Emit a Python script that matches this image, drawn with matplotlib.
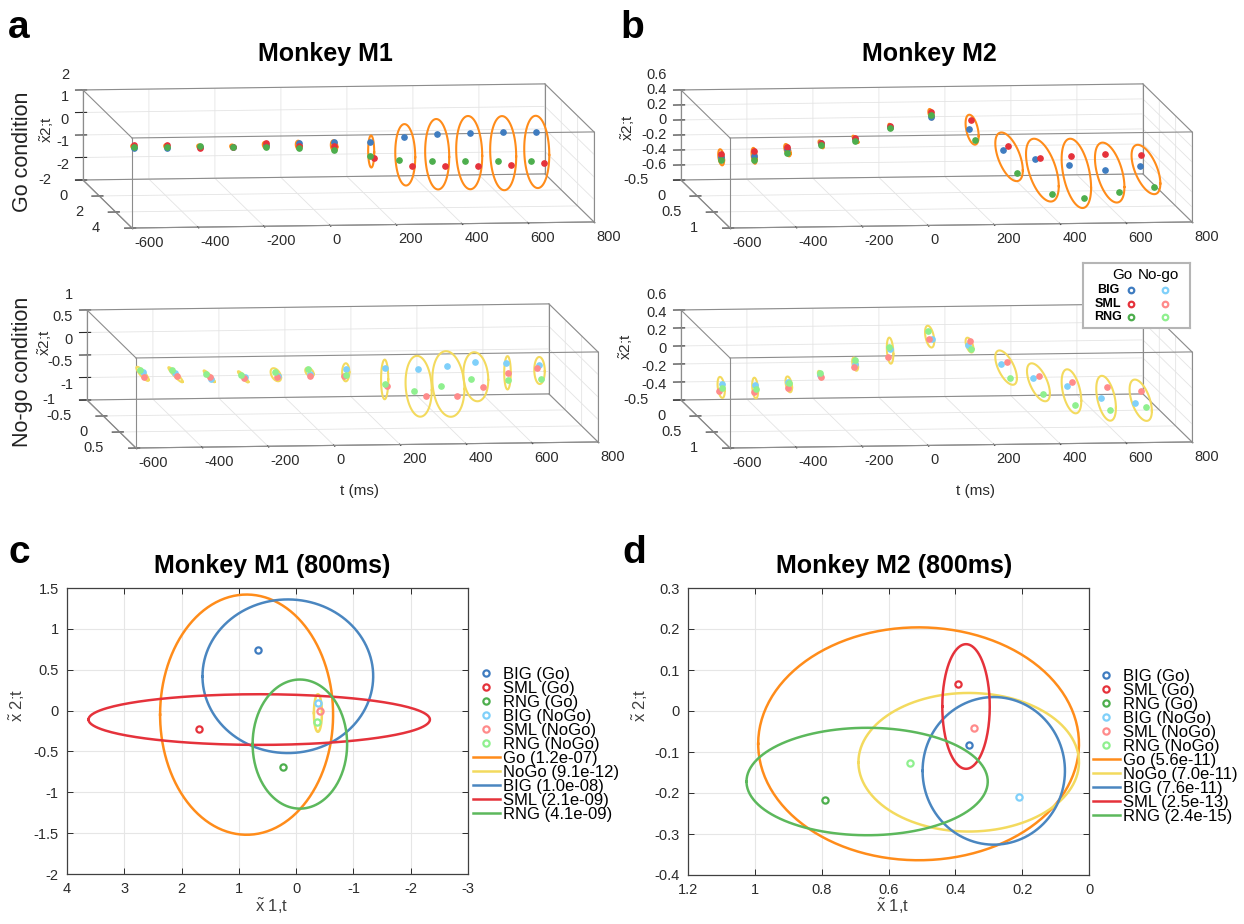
import numpy as np
import matplotlib
matplotlib.use('Agg')
import matplotlib.pyplot as plt
from matplotlib.ticker import FormatStrFormatter, NullFormatter
from mpl_toolkits.mplot3d import proj3d

plt.rcParams['font.family'] = ['Liberation Sans', 'DejaVu Sans']
plt.rcParams['mathtext.fontset'] = 'custom'
plt.rcParams['mathtext.rm'] = 'Liberation Sans'
plt.rcParams['mathtext.it'] = 'Liberation Sans:italic'
plt.rcParams['axes.unicode_minus'] = False

# ---------------- data ----------------
t = [-600, -500, -400, -300, -200, -100, 0, 100, 200, 300, 400, 500, 600]

# Monkey M1, Go condition (depth = x1, height = x2)
go1_y_big = [4.2, 4.2, 4.2, 4.2, 4.2, 4.2, 4.5, 4.8, 5.0, 5.0, 5.0, 5.0, 5.0]
go1_z_big = [1.61, 1.61, 1.64, 1.60, 1.66, 1.77, 1.87, 1.95, 2.23, 2.35, 2.38, 2.41, 2.39]
go1_y_sml = [4.2, 4.2, 4.2, 4.2, 4.2, 4.2, 4.5, 5.3, 6.0, 6.0, 6.0, 6.0, 6.0]
go1_z_sml = [1.76, 1.75, 1.60, 1.63, 1.75, 1.64, 1.69, 1.42, 1.30, 1.28, 1.27, 1.30, 1.37]
go1_y_rng = [4.2, 4.2, 4.2, 4.2, 4.2, 4.2, 4.5, 4.8, 4.4, 4.4, 4.4, 4.4, 4.4]
go1_z_rng = [1.67, 1.66, 1.69, 1.63, 1.59, 1.55, 1.55, 1.37, 0.99, 0.94, 0.92, 0.91, 0.89]
go1_ell_y = [4.2, 4.2, 4.2, 4.2, 4.2, 4.2, 4.5, 5.0, 5.13, 5.0, 4.88, 5.0, 5.07]
go1_ell_z = [1.68, 1.67, 1.64, 1.62, 1.67, 1.65, 1.71, 1.62, 1.50, 1.46, 1.47, 1.47, 1.53]
go1_ell_ry = [0.3, 0.3, 0.3, 0.3, 0.35, 0.35, 0.4, 0.37, 1.22, 1.47, 1.59, 1.59, 1.53]
go1_ell_rz = [0.1, 0.1, 0.1, 0.1, 0.15, 0.2, 0.25, 0.71, 1.36, 1.56, 1.62, 1.64, 1.6]
go1_ell_k = [0.08, 0.08, 0.08, 0.08, 0.09, 0.09, 0.1, 0.1, 0.33, 0.4, 0.42, 0.42, 0.41]

# Monkey M1, No-go condition
no1_y_big = [0.70, 0.69, 0.79, 0.82, 0.81, 0.76, 0.87, 1.05, 1.05, 0.94, 0.76, 0.72, 0.71]
no1_z_big = [0.83, 0.79, 0.73, 0.78, 0.79, 0.79, 0.97, 1.09, 1.06, 1.04, 0.99, 0.94, 0.88]
no1_y_sml = [0.75, 0.75, 0.74, 0.79, 0.77, 0.78, 0.81, 1.12, 1.28, 1.23, 1.02, 0.78, 0.65]
no1_z_sml = [0.76, 0.77, 0.73, 0.74, 0.74, 0.76, 0.77, 0.74, 0.63, 0.58, 0.62, 0.76, 0.77]
no1_y_rng = [0.62, 0.60, 0.63, 0.69, 0.71, 0.70, 0.87, 1.05, 0.92, 0.73, 0.64, 0.78, 0.79]
no1_z_rng = [0.82, 0.80, 0.72, 0.73, 0.81, 0.86, 0.82, 0.74, 0.48, 0.45, 0.53, 0.60, 0.62]
no1_ell_y = [0.70, 0.70, 0.72, 0.75, 0.74, 0.76, 0.86, 1.04, 1.07, 0.97, 0.80, 0.76, 0.73]
no1_ell_z = [0.79, 0.76, 0.73, 0.73, 0.76, 0.82, 0.88, 0.84, 0.70, 0.67, 0.70, 0.75, 0.77]
no1_ell_ry = [0.19, 0.22, 0.17, 0.16, 0.16, 0.13, 0.11, 0.11, 0.40, 0.49, 0.38, 0.10, 0.16]
no1_ell_rz = [0.08, 0.06, 0.05, 0.05, 0.13, 0.09, 0.20, 0.44, 0.67, 0.72, 0.54, 0.37, 0.30]
no1_ell_k = [0, 0, 0, 0, 0.05, 0.05, 0.08, 0.08, 0.2, 0.24, 0.2, 0.07, 0.1]

# Monkey M2, Go condition
go2_y_big = [0.71, 0.73, 0.73, 0.76, 0.80, 0.86, 1.10, 1.24, 1.27, 1.23, 1.29, 1.37, 1.43]
go2_z_big = [0.216, 0.237, 0.32, 0.408, 0.473, 0.661, 0.893, 0.784, 0.503, 0.364, 0.309, 0.263, 0.337]
go2_y_sml = [0.71, 0.73, 0.73, 0.76, 0.80, 0.86, 1.10, 1.30, 1.42, 1.39, 1.34, 1.38, 1.46]
go2_z_sml = [0.269, 0.308, 0.355, 0.408, 0.487, 0.677, 0.952, 0.921, 0.631, 0.448, 0.441, 0.485, 0.505]
go2_y_rng = [0.71, 0.73, 0.73, 0.76, 0.80, 0.86, 1.10, 1.42, 1.71, 1.75, 1.74, 1.79, 1.85]
go2_z_rng = [0.18, 0.184, 0.275, 0.381, 0.455, 0.644, 0.916, 0.716, 0.384, 0.124, 0.061, 0.157, 0.245]
go2_ell_y = [0.73, 0.73, 0.74, 0.76, 0.80, 0.86, 1.09, 1.34, 1.46, 1.47, 1.50, 1.51, 1.61]
go2_ell_z = [0.227, 0.241, 0.315, 0.395, 0.473, 0.661, 0.921, 0.815, 0.499, 0.32, 0.284, 0.293, 0.371]
go2_ell_ry = [0.09, 0.08, 0.10, 0.08, 0.09, 0.06, 0.08, 0.2, 0.42, 0.5, 0.45, 0.45, 0.44]
go2_ell_rz = [0.10, 0.10, 0.07, 0.04, 0.03, 0.03, 0.06, 0.18, 0.27, 0.36, 0.42, 0.35, 0.27]
go2_ell_k = [0] * 13

# Monkey M2, No-go condition
no2_y_big = [0.76, 0.76, 0.75, 0.72, 0.80, 0.86, 1.12, 1.22, 1.21, 1.17, 1.20, 1.25, 1.28]
no2_z_big = [0.23, 0.207, 0.236, 0.302, 0.448, 0.622, 0.82, 0.785, 0.568, 0.40, 0.308, 0.195, 0.146]
no2_y_sml = [0.67, 0.73, 0.77, 0.75, 0.77, 0.79, 1.03, 1.28, 1.41, 1.38, 1.38, 1.43, 1.45]
no2_z_sml = [0.116, 0.116, 0.17, 0.287, 0.40, 0.507, 0.789, 0.851, 0.664, 0.497, 0.42, 0.379, 0.333]
no2_y_rng = [0.76, 0.79, 0.80, 0.71, 0.78, 0.83, 1.01, 1.30, 1.48, 1.50, 1.46, 1.52, 1.61]
no2_z_rng = [0.186, 0.181, 0.236, 0.31, 0.478, 0.637, 0.869, 0.769, 0.513, 0.334, 0.198, 0.153, 0.213]
no2_ell_y = [0.73, 0.76, 0.78, 0.73, 0.79, 0.85, 1.05, 1.26, 1.37, 1.35, 1.35, 1.40, 1.45]
no2_ell_z = [0.177, 0.176, 0.219, 0.299, 0.437, 0.604, 0.826, 0.802, 0.586, 0.411, 0.306, 0.242, 0.233]
no2_ell_ry = [0.11, 0.09, 0.10, 0.07, 0.09, 0.10, 0.14, 0.12, 0.33, 0.35, 0.30, 0.30, 0.34]
no2_ell_rz = [0.11, 0.11, 0.08, 0.04, 0.065, 0.14, 0.11, 0.07, 0.15, 0.17, 0.22, 0.225, 0.195]
no2_ell_k = [0] * 13

# 800 ms snapshots (panels c, d)
point_names = ['BIG (Go)', 'SML (Go)', 'RNG (Go)', 'BIG (NoGo)', 'SML (NoGo)', 'RNG (NoGo)']
m1_pts_x = [0.665, 1.69, 0.227, -0.38, -0.41, -0.36]
m1_pts_y = [0.747, -0.22, -0.694, 0.09, 0.0, -0.14]
m1_ell_names = ['Go (1.2e-07)', 'NoGo (9.1e-12)', 'BIG (1.0e-08)', 'SML (2.1e-09)', 'RNG (4.1e-09)']
m1_ell_cx = [0.865, -0.38, 0.145, 0.645, -0.065]
m1_ell_cy = [-0.05, -0.03, 0.42, -0.11, -0.41]
m1_ell_rx = [1.51, 0.07, 1.49, 2.98, 0.825]
m1_ell_ry = [1.47, 0.23, 0.94, 0.31, 0.79]

m2_pts_x = [0.359, 0.393, 0.79, 0.208, 0.343, 0.536]
m2_pts_y = [-0.083, 0.065, -0.218, -0.209, -0.042, -0.126]
m2_ell_names = ['Go (5.6e-11)', 'NoGo (7.0e-11)', 'BIG (7.6e-11)', 'SML (2.5e-13)', 'RNG (2.4e-15)']
m2_ell_cx = [0.51, 0.36, 0.285, 0.368, 0.664]
m2_ell_cy = [-0.08, -0.125, -0.146, 0.011, -0.172]
m2_ell_rx = [0.48, 0.33, 0.213, 0.071, 0.361]
m2_ell_ry = [0.284, 0.169, 0.18, 0.152, 0.131]

m1_xticks = [4, 3, 2, 1, 0, -1, -2, -3]
m1_yticks = [1.5, 1, 0.5, 0, -0.5, -1, -1.5, -2]
m2_xticks = [1.2, 1, 0.8, 0.6, 0.4, 0.2, 0]
m2_yticks = [0.3, 0.2, 0.1, 0, -0.1, -0.2, -0.3, -0.4]

# ---------------- styles ----------------
go_cols = ['#3f7cc0', '#e5323b', '#4dae4d']
nogo_cols = ['#7fd0fa', '#ff8b8b', '#8ff08f']
ell_cols = ['#ff8c1a', '#f3da5e', '#4a86c0', '#e5323b', '#5cb85c']
tick_col = '#2b2b2b'

W, H = 1244, 924
fig = plt.figure(figsize=(W / 100, H / 100), dpi=100)


def fx(x):
    return x / W


def fy(y):
    return 1 - y / H


def fit_box(ax, corner, edge_len):
    # move/scale the 3d axes so the front-bottom edge starts at corner (px)
    # and is edge_len px long
    x0, x1 = ax.get_xlim()
    yf = ax.get_ylim()[0]
    z0 = ax.get_zlim()[0]
    M = ax.get_proj()
    px, py, _ = proj3d.proj_transform(np.array([x0, x1]), np.array([yf, yf]),
                                      np.array([z0, z0]), M)
    f = ax.transLimits.transform(np.column_stack([px, py]))
    side = edge_len / (f[1, 0] - f[0, 0])
    left = corner[0] - f[0, 0] * side
    bottom = (H - corner[1]) - f[0, 1] * side
    ax.set_position([left / W, bottom / H, side / W, side / H])


def z_labels(ax, zticks, dx=-14, dy=15):
    # z tick labels: placed left of, and a bit above, the back-left edge ticks
    n = len(zticks)
    M = ax.get_proj()
    xs, ys, _ = proj3d.proj_transform(np.full(n, ax.get_xlim()[0]),
                                      np.full(n, ax.get_ylim()[1]),
                                      np.array(zticks, dtype=float), M)
    pts = ax.transData.transform(np.column_stack([xs, ys]))
    for (px, py), v in zip(pts, zticks):
        fig.text((px + dx) / W, (py + dy) / H, '%g' % v, ha='right', va='center',
                 fontsize=10.5, color=tick_col)


def panel3d(corner, ylim, zlim, yticks, zticks, series, ell, ell_col):
    ax = fig.add_axes([0, 0, 0.5, 0.5], projection='3d')
    ax.set_proj_type('ortho')
    ax.view_init(elev=6.5, azim=-96.6)
    ax.set_box_aspect((465, 427, 90.6))
    ax.set_xlim(-600, 800)
    ax.set_ylim(ylim[1], ylim[0])
    ax.set_zlim(*zlim)
    ax.computed_zorder = False
    ax.set_facecolor((1, 1, 1, 0))

    for a in (ax.xaxis, ax.yaxis, ax.zaxis):
        a.set_pane_color((1, 1, 1, 0))
        a.pane.set_edgecolor('#a0a0a0')
        a._axinfo['grid'].update(color='#e4e4e4', linewidth=0.6)
        a.line.set_color('#909090')
        a.set_major_formatter(FormatStrFormatter('%g'))
    ax.zaxis.set_major_formatter(NullFormatter())
    ax.set_xticks(range(-600, 801, 200))
    ax.set_yticks(yticks)
    ax.set_zticks(zticks)
    ax.tick_params(labelsize=10.5, colors=tick_col, pad=0)
    ax.xaxis.set_tick_params(pad=5)
    ax.yaxis.set_tick_params(pad=8)
    for lb in ax.xaxis.get_majorticklabels():
        lb.set_ha('left')
        lb.set_va('top')
    for lb in ax.yaxis.get_majorticklabels():
        lb.set_ha('right')
        lb.set_va('bottom')

    # box edges
    xl, yl, zl = (-600, 800), ylim, zlim
    for yy in yl:
        for zz in zl:
            ax.plot(xl, [yy, yy], [zz, zz], color='#8c8c8c', lw=0.8)
    for xx in xl:
        for zz in zl:
            ax.plot([xx, xx], yl, [zz, zz], color='#8c8c8c', lw=0.8)
        for yy in yl:
            ax.plot([xx, xx], [yy, yy], zl, color='#8c8c8c', lw=0.8)

    ey, ez, ery, erz, ek = ell
    phi = np.linspace(0, 2 * np.pi, 120)
    for i, ti in enumerate(t):
        ax.plot(np.full(phi.size, ti), ey[i] + ery[i] * np.cos(phi),
                ez[i] + erz[i] * np.sin(phi) + ek[i] * np.cos(phi),
                color=ell_col, lw=1.5)
    for yv, zv, c in series:
        ax.plot(t, yv, zv, 'o', ls='none', ms=3.8, color=c, mec=c)

    fit_box(ax, corner, 462)
    z_labels(ax, zticks)
    return ax


# panel a: Monkey M1
panel3d((132, 228), (-2, 4), (-2, 2), [-2, 0, 2, 4], [-2, -1, 0, 1, 2],
        [(go1_y_big, go1_z_big, go_cols[0]), (go1_y_sml, go1_z_sml, go_cols[1]),
         (go1_y_rng, go1_z_rng, go_cols[2])],
        (go1_ell_y, go1_ell_z, go1_ell_ry, go1_ell_rz, go1_ell_k), ell_cols[0])
panel3d((136, 448), (-1, 0.5), (-1, 1), [-1, -0.5, 0, 0.5], [-1, -0.5, 0, 0.5, 1],
        [(no1_y_big, no1_z_big, nogo_cols[0]), (no1_y_sml, no1_z_sml, nogo_cols[1]),
         (no1_y_rng, no1_z_rng, nogo_cols[2])],
        (no1_ell_y, no1_ell_z, no1_ell_ry, no1_ell_rz, no1_ell_k), ell_cols[1])
# panel b: Monkey M2
panel3d((730, 228), (-0.5, 1), (-0.6, 0.6), [-0.5, 0, 0.5, 1],
        [-0.6, -0.4, -0.2, 0, 0.2, 0.4, 0.6],
        [(go2_y_big, go2_z_big, go_cols[0]), (go2_y_sml, go2_z_sml, go_cols[1]),
         (go2_y_rng, go2_z_rng, go_cols[2])],
        (go2_ell_y, go2_ell_z, go2_ell_ry, go2_ell_rz, go2_ell_k), ell_cols[0])
panel3d((730, 448), (-0.5, 1), (-0.4, 0.6), [-0.5, 0, 0.5, 1],
        [-0.4, -0.2, 0, 0.2, 0.4, 0.6],
        [(no2_y_big, no2_z_big, nogo_cols[0]), (no2_y_sml, no2_z_sml, nogo_cols[1]),
         (no2_y_rng, no2_z_rng, nogo_cols[2])],
        (no2_ell_y, no2_ell_z, no2_ell_ry, no2_ell_rz, no2_ell_k), ell_cols[1])

# small colour key in panel b
key = fig.add_axes([fx(1083), fy(328), 107 / W, 65 / H], zorder=5)
key.set_xlim(-1.41, 1.74)
key.set_ylim(2.81, -2.0)
key.set_xticks([])
key.set_yticks([])
for s in key.spines.values():
    s.set_color('#b5b5b5')
    s.set_linewidth(1.5)
for r, name in enumerate(['BIG', 'SML', 'RNG']):
    key.plot(0, r, 'o', mfc='none', mew=1.6, ms=4, color=go_cols[r])
    key.plot(1, r, 'o', mfc='none', mew=1.6, ms=4, color=nogo_cols[r])
    key.text(-0.68, r, name, ha='center', va='center', fontsize=9, fontweight='bold')
key.text(-0.26, -1.1, 'Go', ha='center', va='center', fontsize=11)
key.text(0.82, -1.1, 'No-go', ha='center', va='center', fontsize=11)


# ---------------- panels c, d ----------------
def panel2d(rect, px, py, ecx, ecy, erx, ery, enames, xlim, ylim, xticks, yticks, leg_xy):
    ax = fig.add_axes(rect)
    phi = np.linspace(0, 2 * np.pi, 240)
    handles = []
    for i in range(len(px)):
        c = (go_cols + nogo_cols)[i]
        h, = ax.plot(px[i], py[i], 'o', mfc='none', mew=1.6, ms=4.5, color=c,
                     label=point_names[i], zorder=4)
        handles.append(h)
    for i in range(len(ecx)):
        h, = ax.plot(ecx[i] + erx[i] * np.cos(phi), ecy[i] + ery[i] * np.sin(phi),
                     color=ell_cols[i], lw=1.8, label=enames[i], zorder=3)
        handles.append(h)
    ax.set_xlim(*xlim)
    ax.set_ylim(*ylim)
    ax.set_xticks(xticks)
    ax.set_yticks(yticks)
    ax.xaxis.set_major_formatter(FormatStrFormatter('%g'))
    ax.yaxis.set_major_formatter(FormatStrFormatter('%g'))
    ax.grid(True, color='#e6e6e6', lw=0.8)
    ax.set_axisbelow(True)
    ax.tick_params(direction='in', top=True, right=True, length=4, width=0.7,
                   labelsize=10.5, colors=tick_col, pad=6)
    for s in ax.spines.values():
        s.set_color('#404040')
        s.set_linewidth(0.9)
    ax.legend(handles=handles, loc='upper left', bbox_to_anchor=leg_xy,
              bbox_transform=fig.transFigure, frameon=False, fontsize=12,
              labelspacing=-0.06, handlelength=1.6, handletextpad=0.2,
              borderpad=0, borderaxespad=0)
    return ax


panel2d([fx(67), fy(874), 401 / W, 286 / H], m1_pts_x, m1_pts_y,
        m1_ell_cx, m1_ell_cy, m1_ell_rx, m1_ell_ry, m1_ell_names,
        (4, -3), (-2, 1.5), m1_xticks, m1_yticks, (fx(473), fy(667)))
panel2d([fx(688), fy(875), 401 / W, 287 / H], m2_pts_x, m2_pts_y,
        m2_ell_cx, m2_ell_cy, m2_ell_rx, m2_ell_ry, m2_ell_names,
        (1.2, 0), (-0.4, 0.3), m2_xticks, m2_yticks, (fx(1093), fy(669)))

# ---------------- texts ----------------
for x, y, s in [(8, 38, 'a'), (620, 38, 'b'), (8, 563, 'c'), (622, 563, 'd')]:
    fig.text(fx(x), fy(y), s, fontsize=28, fontweight='bold', va='baseline')
fig.text(fx(325), fy(61), 'Monkey M1', fontsize=18, fontweight='bold', ha='center', va='baseline')
fig.text(fx(929), fy(61), 'Monkey M2', fontsize=18, fontweight='bold', ha='center', va='baseline')
fig.text(fx(272), fy(573), 'Monkey M1 (800ms)', fontsize=18, fontweight='bold', ha='center', va='baseline')
fig.text(fx(894), fy(573), 'Monkey M2 (800ms)', fontsize=18, fontweight='bold', ha='center', va='baseline')
fig.text(fx(23), fy(152), 'Go condition', fontsize=15.5, rotation=90, ha='center', va='center', color='#222222')
fig.text(fx(23), fy(372), 'No-go condition', fontsize=15.5, rotation=90, ha='center', va='center', color='#222222')
zl = r'$\tilde{\mathrm{x}}$2;t'
for x, y in [(47, 130), (45, 343), (628, 128), (626, 347)]:
    fig.text(fx(x), fy(y), zl, fontsize=11, rotation=90, ha='center', va='center', color=tick_col)
fig.text(fx(360), fy(491), 't (ms)', fontsize=11, ha='center', va='center', color=tick_col)
fig.text(fx(976), fy(491), 't (ms)', fontsize=11, ha='center', va='center', color=tick_col)
xl1 = r'$\tilde{\mathrm{x}}$ 1,t'
xl2 = r'$\tilde{\mathrm{x}}$ 2;t'
fig.text(fx(272), fy(906), xl1, fontsize=12, ha='center', va='center', color='#404040')
fig.text(fx(893), fy(906), xl1, fontsize=12, ha='center', va='center', color='#404040')
fig.text(fx(17), fy(705), xl2, fontsize=12, rotation=90, ha='center', va='center', color='#404040')
fig.text(fx(640), fy(705), xl2, fontsize=12, rotation=90, ha='center', va='center', color='#404040')

fig.savefig('out.png', dpi=100)
